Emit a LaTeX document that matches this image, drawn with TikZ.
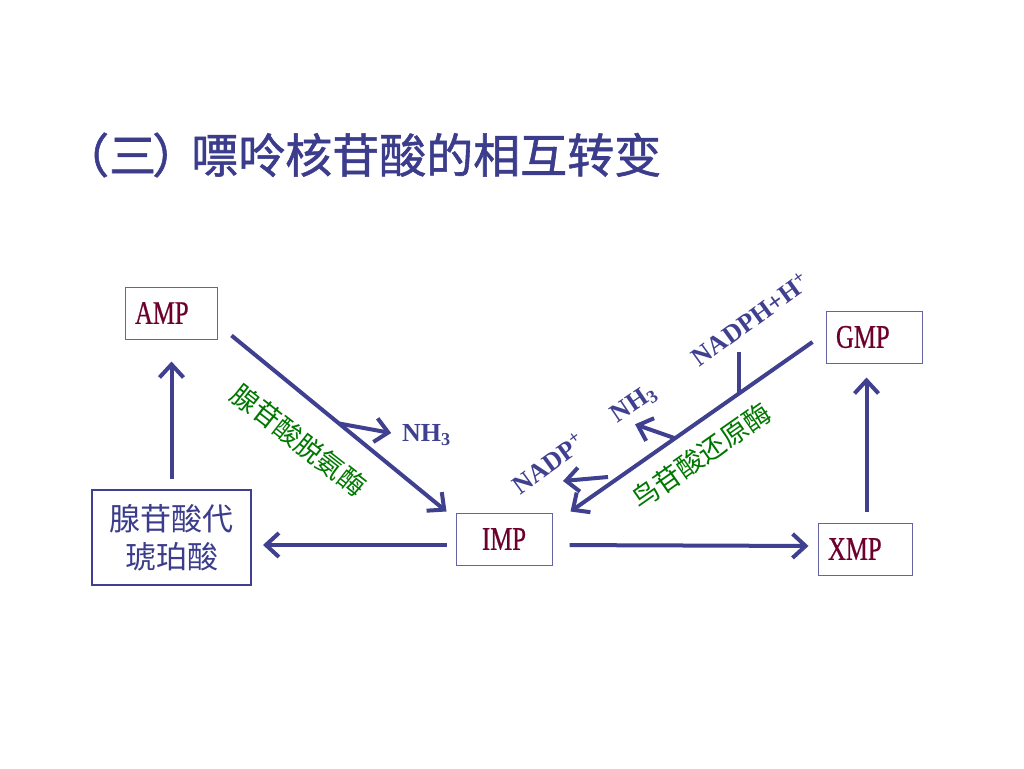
\documentclass[tikz,border=0pt]{standalone}
\usepackage{fontspec}
\setmainfont{Liberation Serif}
\newfontfamily\cjk{Noto Sans CJK SC}
\newfontfamily\cjkhead[FakeBold=1.2]{Noto Sans CJK SC}
\newfontfamily\boxfont[FakeStretch=0.75,FakeBold=0.6]{Liberation Serif}
\usetikzlibrary{arrows.meta}
\usetikzlibrary{positioning}
\definecolor{pathblue}{RGB}{64,64,144}
\definecolor{boxline}{RGB}{100,100,165}
\definecolor{boxred}{RGB}{110,0,45}
\definecolor{enzgreen}{RGB}{0,120,0}
\definecolor{titleblue}{RGB}{60,60,140}

\begin{document}
\begin{tikzpicture}[x=1pt,y=-1pt,
  box/.style={draw=boxline,line width=1pt,minimum height=52pt,inner xsep=10pt,text width=#1,align=left,text=boxred,font=\boxfont\fontsize{33}{36}\selectfont},
  arr/.style={draw=pathblue,line width=4pt,-{Straight Barb[length=13pt,width=24pt]}},
  link/.style={draw=pathblue,line width=4pt},
  enz/.style={text=enzgreen,inner sep=0pt,font=\cjk\fontsize{27}{30}\selectfont},
  cof/.style={text=pathblue,inner sep=0pt,font=\bfseries\fontsize{26}{28}\selectfont}]
  \useasboundingbox[fill=white] (0,0) rectangle (1024,768);
  \node[anchor=west,inner sep=0pt,text=titleblue,font=\cjkhead\fontsize{47}{50}\selectfont] (title) at (50,155)
    {\kern12pt（三\kern-4pt）\kern-8pt嘌呤核苷酸的相互转变};
  \node[box=72pt] (AMP) at (171,313) {AMP};
  \node[box=76pt] (GMP) at (874,337) {GMP};
  \node[box=76pt,align=center] (IMP) at (504,539) {IMP};
  \node[box=74pt] (XMP) at (865,549) {XMP};
  \node[draw=pathblue,line width=2pt,minimum width=159pt,minimum height=95pt,align=center,text=titleblue,font=\cjk\fontsize{31}{38}\selectfont] (SAMP) at (171.5,537.5) {腺苷酸代\\琥珀酸};
  % main arrows
  \draw[arr,shorten <=10pt,shorten >=22pt] (SAMP.north) -- (SAMP.north |- AMP.south);
  \draw[arr,shorten <=11pt,shorten >=14pt] ([xshift=1.5pt]XMP.north) -- ([xshift=1.5pt]XMP.north |- GMP.south);
  \draw[arr,shorten <=9pt,shorten >=11pt] ([yshift=-6pt]IMP.west) -- ([yshift=-6pt]IMP.west -| SAMP.east);
  \draw[arr,shorten <=17pt,shorten >=9pt] ([yshift=-6pt]IMP.east) -- ([yshift=-7pt]IMP.east -| XMP.west);
  \draw[arr] ([shift={(14pt,4pt)}]AMP.south east) -- ([shift={(-9pt,1pt)}]IMP.north west)
    coordinate[pos=0.5] (j1);
  \draw[arr] ([shift={(-13pt,-5pt)}]GMP.west) -- ([shift={(18pt,1pt)}]IMP.north east)
    coordinate[pos=0.305] (j2) coordinate[pos=0.568] (j3);
  % side products
  \node[cof,anchor=west] (nh3L) at (402,435) {NH\textsubscript{3}};
  \draw[arr,shorten >=11pt] (j1) -- (nh3L.west);
  \coordinate (j2top) at ([yshift=42pt]j2);
  \draw[link] (j2) -- (j2top);
  \node[cof,rotate=36] (nadph) at (750,319) {NADPH+H\textsuperscript{+}};
  \coordinate (t3) at ([shift={(-40pt,14pt)}]j3);
  \draw[arr] (j3) -- (t3);
  \node[cof,rotate=34] (nh3R) at (634,404) {NH\textsubscript{3}};
  \coordinate (s4) at (608,477);
  \coordinate (t4) at (563,481);
  \draw[arr] (s4) -- (t4);
  \node[cof,rotate=36] (nadp) at (548,463) {NADP\textsuperscript{+}};
  % enzymes
  \node[enz,rotate=-38] (ada) at (299,440) {腺苷酸脱氨酶};
  \node[enz,rotate=35] (gmr) at (701,456) {鸟苷酸还原酶};
\end{tikzpicture}
\end{document}
